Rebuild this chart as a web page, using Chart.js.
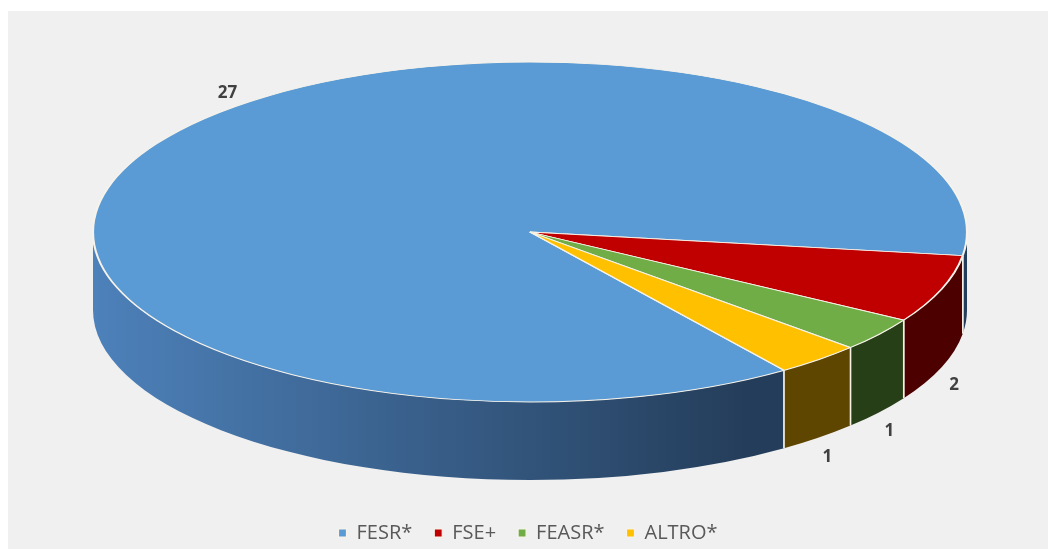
<!DOCTYPE html>
<html>
<head>
<meta charset="utf-8">
<script src="https://cdn.jsdelivr.net/npm/chart.js@4.4.1/dist/chart.umd.min.js"></script>
<style>
  html, body { margin: 0; padding: 0; background: #fff; }
  #panel { position: absolute; left: 8px; top: 11px; width: 1040px; height: 538px; background: #f0f0f0; }
</style>
</head>
<body>
<div id="panel"><canvas id="chart" width="1040" height="538"></canvas></div>
<script>
const categories = ['FESR*', 'FSE+', 'FEASR*', 'ALTRO*'];
const values = [27, 2, 1, 1];
const topColors = ['#5b9bd5', '#c00000', '#70ad47', '#ffc000'];
const sideColors = [['#4d81ba', '#243d5a'], ['#680000', '#4c0000'], ['#35581f', '#273f16'], ['#785a00', '#5e4600']];

// draws the side wall of a slice between two angles (front half only)
function drawSide(ctx, o, a1, a2, i) {
    const { cx, cy, rx, ry, depth } = o;
    ctx.beginPath();
    ctx.ellipse(cx, cy, rx, ry, 0, a1, a2);
    ctx.ellipse(cx, cy + depth, rx, ry, 0, a2, a1, true);
    ctx.closePath();
    const g = ctx.createLinearGradient(cx - rx, 0, cx + rx * 0.5, 0);
    g.addColorStop(0, sideColors[i][0]);
    g.addColorStop(1, sideColors[i][1]);
    ctx.fillStyle = g;
    ctx.fill();

    ctx.strokeStyle = '#f4efe4';
    ctx.lineWidth = 1.5;
    [a1, a2].forEach(a => {
        if (Math.abs(Math.sin(a)) < 0.01) return;
        const x = cx + rx * Math.cos(a), y = cy + ry * Math.sin(a);
        ctx.beginPath();
        ctx.moveTo(x, y);
        ctx.lineTo(x, y + depth);
        ctx.stroke();
    });
}

const pie3d = {
    id: 'pie3d',
    beforeDatasetsDraw(chart, args, o) {
        const ctx = chart.ctx;
        const arcs = chart.getDatasetMeta(0).data;
        const TAU = Math.PI * 2;

        arcs.forEach((arc, i) => {
            for (let k = -2; k <= 2; k++) {
                const lo = Math.max(arc.startAngle, k * TAU);
                const hi = Math.min(arc.endAngle, k * TAU + Math.PI);
                if (hi > lo) drawSide(ctx, o, lo, hi, i);
            }
        });

        // squash the library's circle into the top ellipse
        const a = arcs[0];
        ctx.save();
        ctx.translate(o.cx, o.cy);
        ctx.scale(o.rx / a.outerRadius, o.ry / a.outerRadius);
        ctx.translate(-a.x, -a.y);
    },
    afterDatasetsDraw(chart, args, o) {
        const ctx = chart.ctx;
        ctx.restore();

        const TAU = Math.PI * 2;
        const arcs = chart.getDatasetMeta(0).data;
        ctx.save();
        ctx.fillStyle = '#404040';
        ctx.font = 'bold 17px "Open Sans"';
        ctx.textAlign = 'center';
        ctx.textBaseline = 'middle';
        arcs.forEach((arc, i) => {
            let m = (arc.startAngle + arc.endAngle) / 2;
            m = ((m % TAU) + TAU) % TAU;
            const lower = Math.sin(m) > 0;
            const t = lower ? m : m + o.topLabelShift;
            const k = lower ? 1.03 : 1.06;
            const x = o.cx + o.rx * k * Math.cos(t);
            const y = o.cy + o.ry * k * Math.sin(t) + (lower ? o.depth + 16 : -2);
            ctx.fillText(String(values[i]), x, y);
        });
        ctx.restore();
    }
};

new Chart(document.getElementById('chart'), {
    type: 'pie',
    data: {
        labels: categories,
        datasets: [{
            data: values,
            backgroundColor: topColors,
            borderColor: '#f7f3ea',
            borderWidth: 1.2,
            clip: false
        }]
    },
    options: {
        responsive: false,
        animation: false,
        rotation: 144.45,
        layout: { padding: { bottom: -4 } },
        plugins: {
            legend: {
                position: 'bottom',
                labels: {
                    boxWidth: 8,
                    boxHeight: 8,
                    padding: 22,
                    color: '#595959',
                    font: { family: 'Open Sans', size: 20 }
                }
            },
            tooltip: { enabled: false },
            pie3d: { cx: 522, cy: 221, rx: 437, ry: 170, depth: 78, topLabelShift: 18 * Math.PI / 180 }
        }
    },
    plugins: [pie3d]
});
</script>
</body>
</html>
